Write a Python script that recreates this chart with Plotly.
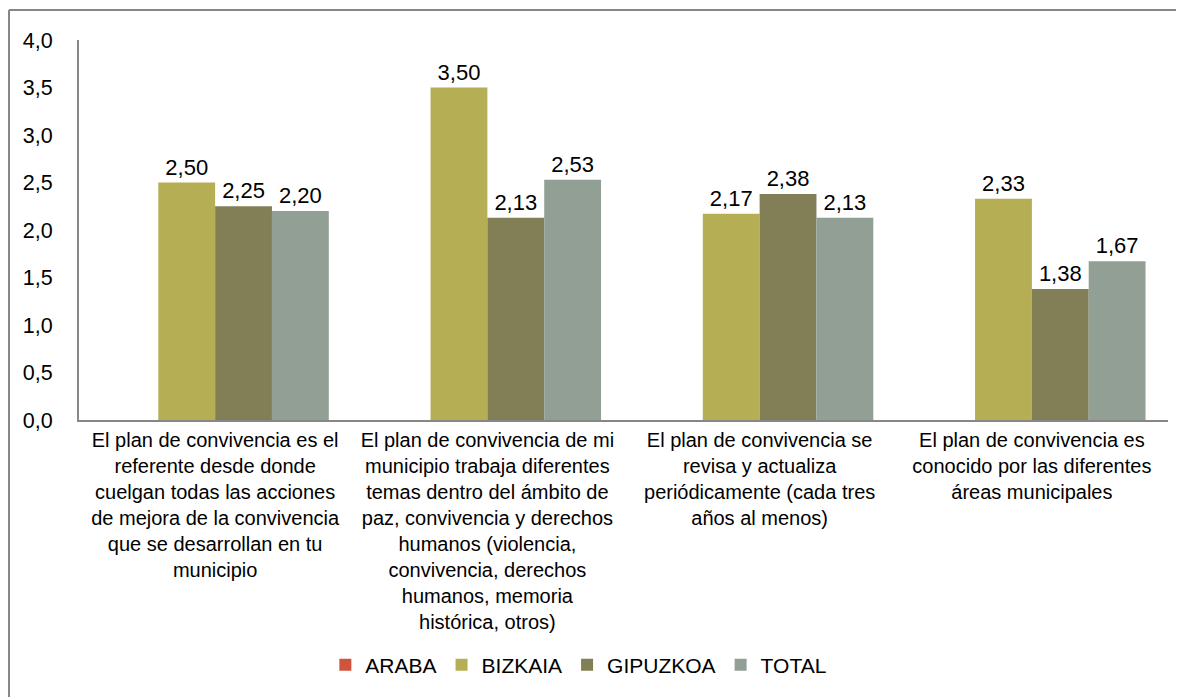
import plotly.graph_objects as go

categories = [
    "El plan de convivencia es el<br>referente desde donde<br>cuelgan todas las acciones<br>de mejora de la convivencia<br>que se desarrollan en tu<br>municipio",
    "El plan de convivencia de mi<br>municipio trabaja diferentes<br>temas dentro del ámbito de<br>paz, convivencia y derechos<br>humanos (violencia,<br>convivencia, derechos<br>humanos, memoria<br>histórica, otros)",
    "El plan de convivencia se<br>revisa y actualiza<br>periódicamente (cada tres<br>años al menos)",
    "El plan de convivencia es<br>conocido por las diferentes<br>áreas municipales",
]
araba = [None, None, None, None]
bizkaia = [2.50, 3.50, 2.17, 2.33]
gipuzkoa = [2.25, 2.13, 2.38, 1.38]
total = [2.20, 2.53, 2.13, 1.67]
series_names = ["ARABA", "BIZKAIA", "GIPUZKOA", "TOTAL"]
colors = ["#D0533C", "#B5AE55", "#827E55", "#919F95"]
y_ticks = [0, 0.5, 1, 1.5, 2, 2.5, 3, 3.5, 4]

W, H = 1176, 689
L, R, T = 71, 16, 32
PH = 380
B = H - T - PH
PW = W - L - R

fig = go.Figure()
for name, vals, col in zip(series_names, [araba, bizkaia, gipuzkoa, total], colors):
    fig.add_trace(go.Bar(
        x=categories, y=vals, name=name, marker_color=col,
        marker_line_width=0,
        text=[None if v is None else f"{v:.2f}".replace(".", ",") for v in vals],
        textposition="outside", cliponaxis=False,
        textfont=dict(family="Liberation Sans, Arial", size=22, color="#000000"),
    ))

fig.update_layout(
    width=W, height=H,
    barmode="group", bargap=0.165, bargroupgap=0,
    plot_bgcolor="white", paper_bgcolor="white",
    margin=dict(l=L, r=R, t=T, b=B, autoexpand=False),
    separators=",.",
    font=dict(family="Liberation Sans, Arial", size=20, color="#000000"),
    showlegend=True,
    legend=dict(orientation="h", x=0.459, xanchor="center", y=-0.645, yanchor="middle",
                font=dict(size=21), itemwidth=30, traceorder="normal"),
)
fig.update_yaxes(
    range=[0, 4], tickvals=y_ticks, tickformat=".1f",
    showgrid=False, zeroline=False, automargin=False,
    showline=True, linecolor="#878787", linewidth=2,
    ticks="outside", ticklen=0, ticklabelstandoff=20,
    tickfont=dict(size=21.5),
)
fig.update_xaxes(
    showgrid=False, showline=True, linecolor="#878787", linewidth=2,
    automargin=False,
    tickfont=dict(size=20), tickangle=0, ticks="", ticklabelstandoff=1,
)
# outer chart border (left and top edges visible)
bx = (1 - L) / PW
by = 1 + (T - 2) / PH
fig.add_shape(type="line", xref="paper", yref="paper",
              x0=bx, x1=bx, y0=by, y1=-1.0,
              line=dict(color="#878787", width=2))
fig.add_shape(type="line", xref="paper", yref="paper",
              x0=bx, x1=1.1, y0=by, y1=by,
              line=dict(color="#878787", width=2))

fig.write_html("out.html")
